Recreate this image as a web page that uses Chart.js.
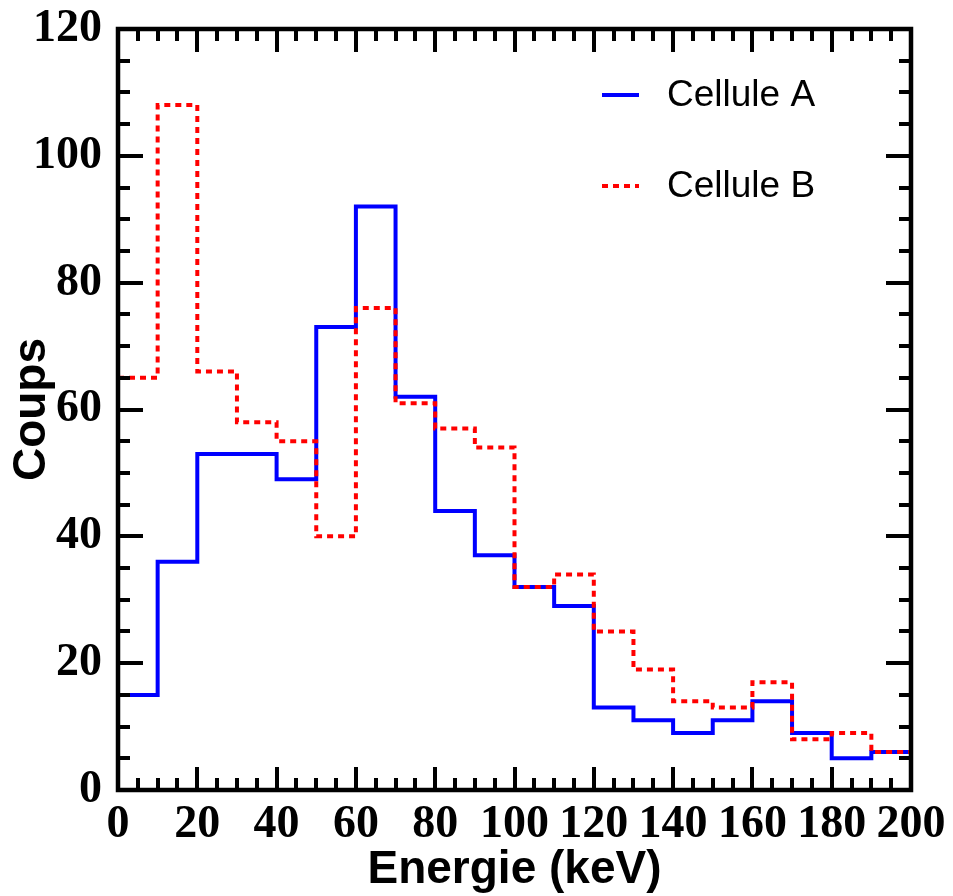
<!DOCTYPE html>
<html>
<head>
<meta charset="utf-8">
<script src="https://cdn.jsdelivr.net/npm/chart.js@4.4.1/dist/chart.umd.min.js"></script>
<style>
  html, body { margin: 0; padding: 0; background: #fff; }
  #wrap { width: 953px; height: 896px; }
</style>
</head>
<body>
<div id="wrap"><canvas id="c"></canvas></div>
<script>
/* Histogram of counts per 10 keV bin, two cells */
var EDGES  = [0, 10, 20, 30, 40, 50, 60, 70, 80, 90, 100, 110, 120, 130, 140, 150, 160, 170, 180, 190, 200];
var CELL_A = [15, 36, 53, 53, 49, 73, 92, 62, 44, 37, 32, 29, 13, 11, 9, 11, 14, 9, 5, 6];
var CELL_B = [65, 108, 66, 58, 55, 40, 76, 61, 57, 54, 32, 34, 25, 19, 14, 13, 17, 8, 9, 6];
var SERIES_NAMES = ["Cellule A", "Cellule B"];
var X_RANGE = [0, 200], X_STEP = 20;
var Y_RANGE = [0, 120], Y_STEP = 20;
var MINOR = 5;

var BLUE = "#0000ff", RED = "#ff0000", INK = "#000";

// step outline: one point per left edge, plus the closing right edge
function steps(counts) {
  var pts = counts.map(function (v, i) { return { x: EDGES[i], y: v }; });
  pts.push({ x: EDGES[counts.length], y: counts[counts.length - 1] });
  return pts;
}

// black frame with inward major/minor ticks on all four sides
var framePlugin = {
  id: "frame",
  afterDatasetsDraw: function (chart) {
    var a = chart.chartArea, sx = chart.scales.x, sy = chart.scales.y, ctx = chart.ctx;
    ctx.save();
    ctx.strokeStyle = INK;
    ctx.lineWidth = 4;
    ctx.beginPath();
    for (var v = X_RANGE[0] + MINOR; v < X_RANGE[1]; v += MINOR) {
      var px = Math.round(sx.getPixelForValue(v)), len = v % X_STEP === 0 ? 23 : 12;
      ctx.moveTo(px, a.bottom); ctx.lineTo(px, a.bottom - len);
      ctx.moveTo(px, a.top); ctx.lineTo(px, a.top + len);
    }
    for (var w = Y_RANGE[0] + MINOR; w < Y_RANGE[1]; w += MINOR) {
      var py = Math.round(sy.getPixelForValue(w)), l2 = w % Y_STEP === 0 ? 25 : 12;
      ctx.moveTo(a.left, py); ctx.lineTo(a.left + l2, py);
      ctx.moveTo(a.right, py); ctx.lineTo(a.right - l2, py);
    }
    ctx.stroke();
    ctx.lineWidth = 4.5;
    ctx.strokeRect(a.left, a.top, a.right - a.left, a.bottom - a.top);
    ctx.restore();
  }
};

// legend inside the plot, top right, no box
var legendPlugin = {
  id: "inLegend",
  afterDatasetsDraw: function (chart) {
    var a = chart.chartArea, ctx = chart.ctx;
    ctx.save();
    ctx.font = "37px 'Liberation Sans', Arial, sans-serif";
    ctx.fillStyle = INK;
    ctx.textBaseline = "alphabetic";
    chart.data.datasets.forEach(function (ds, i) {
      var y = a.top + 66 + i * 91;
      ctx.strokeStyle = ds.borderColor;
      ctx.lineWidth = ds.borderWidth;
      ctx.setLineDash(ds.borderDash || []);
      ctx.beginPath();
      ctx.moveTo(a.right - 309, y); ctx.lineTo(a.right - 272, y);
      ctx.stroke();
      ctx.fillText(ds.label, a.right - 244, y + 11);
    });
    ctx.restore();
  }
};

var X_TICK_FONT = { family: "'Liberation Serif', 'Times New Roman', serif", size: 46, weight: "bold" };
var Y_TICK_FONT = { family: "'Liberation Serif', 'Times New Roman', serif", size: 46, weight: "bold", lineHeight: 0.9 };
var TITLE_FONT = { family: "'Liberation Sans', Arial, sans-serif", size: 46, weight: "bold", lineHeight: 1.2 };

new Chart(document.getElementById("c"), {
  type: "line",
  data: { datasets: [
    { label: SERIES_NAMES[0], data: steps(CELL_A), stepped: "before", borderColor: BLUE,
      borderWidth: 4, pointRadius: 0, fill: false, order: 1 },
    { label: SERIES_NAMES[1], data: steps(CELL_B), stepped: "before", borderColor: RED,
      borderWidth: 4, borderDash: [6, 5], pointRadius: 0, fill: false, order: 0 }
  ] },
  options: {
    responsive: true, maintainAspectRatio: false, animation: false,
    layout: { padding: { top: 29, right: 42, left: 0, bottom: 0 } },
    plugins: { legend: { display: false }, tooltip: { enabled: false } },
    scales: {
      x: { type: "linear", min: X_RANGE[0], max: X_RANGE[1],
        grid: { display: false }, border: { display: false },
        ticks: { stepSize: X_STEP, color: INK, font: X_TICK_FONT, padding: 0, autoSkip: false, maxRotation: 0 },
        title: { display: true, text: "Energie (keV)", color: INK, font: TITLE_FONT, padding: { top: 0, bottom: -2 } },
        afterFit: function (s) { s.height = 106; } },
      y: { type: "linear", min: Y_RANGE[0], max: Y_RANGE[1],
        grid: { display: false }, border: { display: false },
        ticks: { stepSize: Y_STEP, color: INK, font: Y_TICK_FONT, padding: 8 },
        title: { display: true, text: "Coups", color: INK, font: TITLE_FONT, padding: { top: 5, bottom: 0 } },
        afterFit: function (s) { s.width = 118; } }
    }
  },
  plugins: [framePlugin, legendPlugin]
});
</script>
</body>
</html>
